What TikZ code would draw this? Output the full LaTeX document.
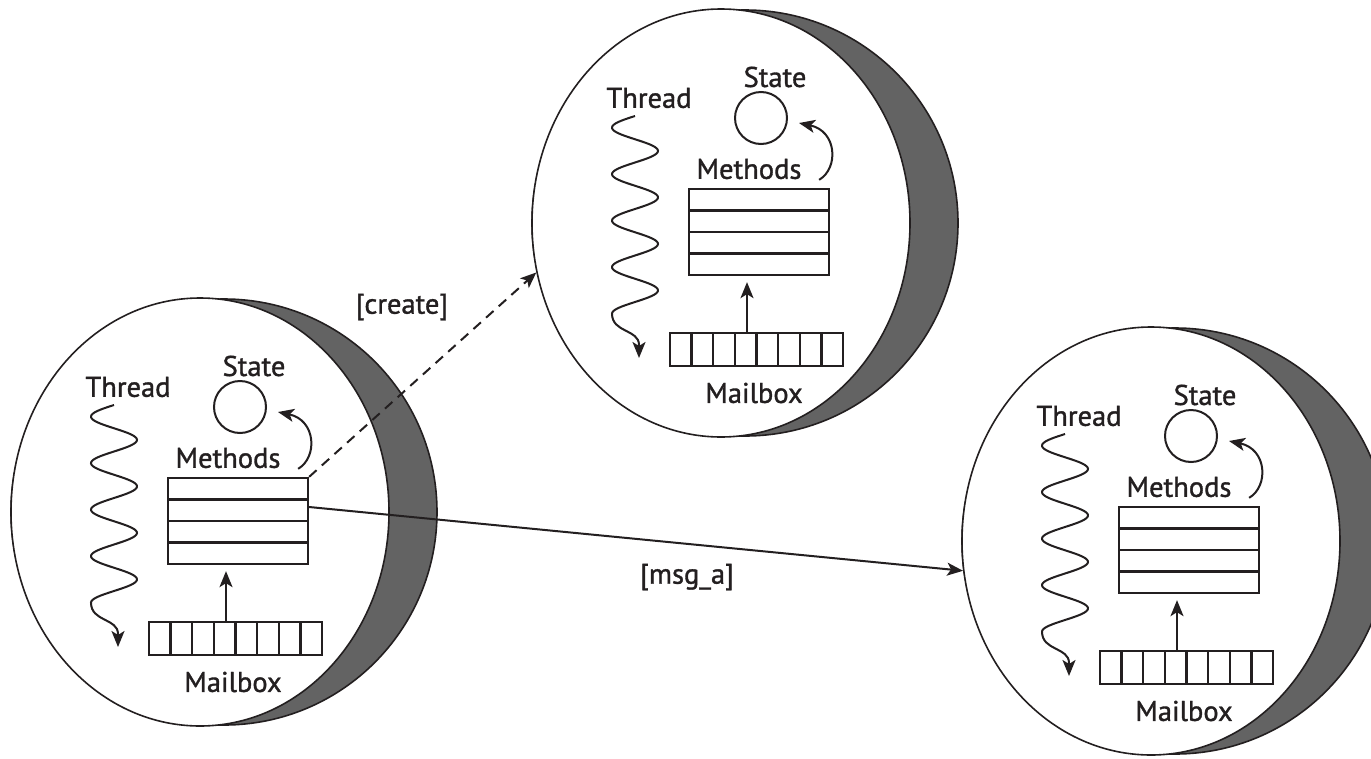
\documentclass[tikz,border=0pt]{standalone}
\usepackage{fontspec}
\setmainfont{PT Sans}
\newfontfamily\lblfont{PT Sans}[FakeBold=1.2]
\usetikzlibrary{shapes.geometric,arrows.meta}
\definecolor{crescentgray}{RGB}{99,99,99}
\definecolor{ink}{RGB}{35,31,32}
\tikzset{
  lbl/.style={font=\lblfont\fontsize{28.5}{31}\selectfont, text=ink, inner sep=0pt},
  tip/.style={-{Stealth[length=16pt,width=13pt,inset=4pt]}},
  boxline/.style={line width=2.3pt, draw=ink},
  thinline/.style={line width=2pt, draw=ink},
  actor/.pic={
    \filldraw[fill=crescentgray, draw=ink, line width=1.6pt] (24,0) circle[radius=213];
    \node[ellipse, draw=ink, line width=1.6pt, fill=white, minimum width=378pt, minimum height=428pt, inner sep=0pt] (-body) at (0,0) {};
    % methods
    \node[boxline, minimum width=140pt, minimum height=86pt, inner sep=0pt] (-methods) at (38,9) {};
    \foreach \yy in {-12.5,9,30.5} \draw[boxline] (-32,\yy) -- (108,\yy);
    % mailbox
    \node[boxline, minimum width=173pt, minimum height=33pt, inner sep=0pt] (-mailbox) at (35.5,126.5) {};
    \foreach \k in {1,...,7} \draw[boxline] (-51+21.625*\k,110) -- (-51+21.625*\k,143);
    % state
    \node[circle, thinline, minimum size=52pt, inner sep=0pt] (-state) at (40,-105) {};
    % labels
    \node[lbl] (-statelbl) at (54,-146) {State};
    \node[lbl] (-methodslbl) at (28,-54) {Methods};
    \node[lbl] (-threadlbl) at (-72,-125) {Thread};
    \node[lbl] (-mailboxlbl) at (33,170) {Mailbox};
    % thread wave
    \draw[thinline, tip] plot[domain=0:197.6, samples=160, smooth] ({-86-23*sin(7.7419*\x)}, {-107+\x})
       .. controls (-109,110) and (-82,106) .. (-82,122) -- (-82,135);
    % mailbox -> methods
    \draw[thinline, tip] ([xshift=-9.5pt]-mailbox.north) -- ([xshift=-12pt,yshift=-6pt]-methods.south);
    % methods -> state
    \draw[thinline, tip] ([xshift=-11pt,yshift=8pt]-methods.north east) .. controls (118,-55) and (116,-92) .. ([xshift=11pt,yshift=-5pt]-state.east);
  }
}
\begin{document}
\begin{tikzpicture}[x=1pt,y=-1pt]
  \useasboundingbox (0,0) rectangle (1371,758);
  \pic (a1) at (200,512) {actor};
  \pic (a2) at (721,223) {actor};
  \pic (a3) at (1151,541) {actor};
  \draw[thinline, tip, dash pattern=on 10pt off 7pt] (a1-methods.north east) -- (a2-body.195);
  \draw[thinline, tip] ([yshift=14pt]a1-methods.east) -- (a3-body.189);
  \node[lbl] (create) at (402,307) {[create]};
  \node[lbl] (msga) at (687,577) {[msg\_a]};
\end{tikzpicture}
\end{document}
